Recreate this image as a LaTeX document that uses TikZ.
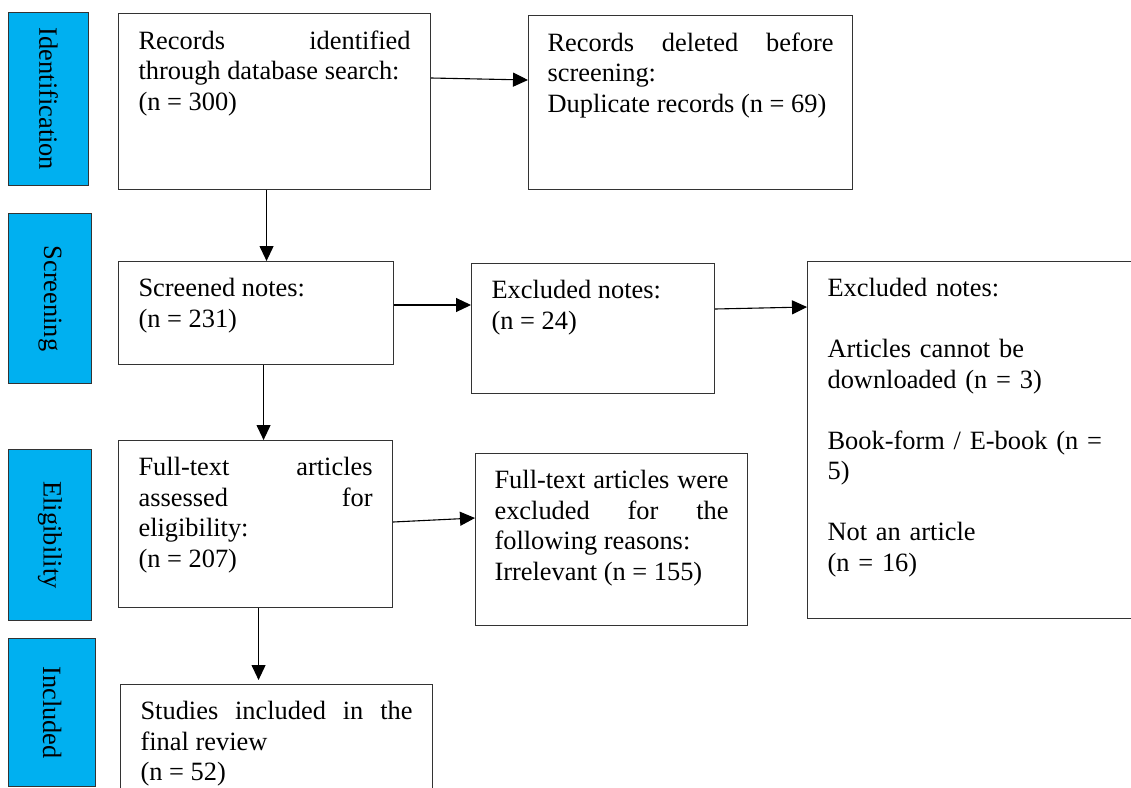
\documentclass[tikz,border=0pt]{standalone}
\usepackage{fontspec}
\setmainfont{Liberation Serif}
\usepackage{graphicx}
\usetikzlibrary{arrows.meta}

\definecolor{stageblue}{HTML}{00B0F0}
\newcommand{\flowfont}{\fontsize{26.4}{30.5}\selectfont}
\tolerance=10000
\hyphenpenalty=10000
\exhyphenpenalty=10000

\begin{document}
\begin{tikzpicture}[x=1pt, y=-1pt,
    box/.style={draw=black!80, line width=1.1pt, anchor=north west, align=justify,
      inner xsep=20pt, inner ysep=17pt, font=\flowfont},
    stage/.style={draw=black!80, fill=stageblue, line width=1.1pt,
      anchor=north west, inner sep=0pt, font=\flowfont},
    arr/.style={-{Triangle[length=15pt,width=14pt]}, line width=1.1pt}]
  \useasboundingbox (0,0) rectangle (1131,787);
  \clip (0,0) rectangle (1131,787);

  % stages on the left
  \node[stage, minimum width=80pt, minimum height=173pt] (sid) at (8,12) {\rotatebox{-90}{Identification}};
  \node[stage, minimum width=83pt, minimum height=170pt] (ssc) at (8,213) {\rotatebox{-90}{Screening}};
  \node[stage, minimum width=83pt, minimum height=171pt] (sel) at (8,449) {\rotatebox{-90}{Eligibility}};
  \node[stage, minimum width=87pt, minimum height=148pt] (sin) at (8,638) {\rotatebox{-90}{Included}};

  % main column
  \node[box, text width=272pt, text depth=123pt] (rec) at (118,13)
    {Records identified\linebreak through database search:\\ (n~=~300)};
  \node[box, text width=235pt, text depth=51pt] (scr) at (118,261)
    {Screened notes:\\ (n~=~231)};
  \node[box, text width=234pt, text depth=115pt] (ft) at (118,440)
    {Full-text articles\linebreak assessed for\linebreak eligibility:\\ (n~=~207)};
  \node[box, text width=272pt, text depth=88pt] (stu) at (120,684)
    {Studies included in the\linebreak final review\\ (n~=~52)};

  % removed records
  \node[box, text width=286pt, inner xsep=19pt, text depth=121pt] (del) at (528,15)
    {Records deleted before\linebreak screening:\\ Duplicate~records~(n~=~69)};
  \node[box, text width=203pt, text depth=78pt] (exa) at (471,263)
    {Excluded notes:\\ (n~=~24)};
  \node[box, text width=234pt, inner xsep=19pt, text depth=120pt] (ftx) at (475,453)
    {Full-text~articles~were\linebreak excluded for the\linebreak following reasons:\\ Irrelevant (n~=~155)};
  \node[box, text width=290pt, text depth=305pt, align=left] (exb) at (807,261)
    {Excluded notes:\\[30.5pt] Articles cannot be\\ downloaded (n = 3)\\[30.5pt]
     Book-form / E-book (n =\\ 5)\\[30.5pt] Not an article\\ (n = 16)};

  % arrows
  \draw[arr] ([yshift=-65pt]rec.north east) -- ([yshift=-65pt]del.north west);
  \draw[arr] ([xshift=-8pt]rec.south) -- ([xshift=10.5pt]scr.north);
  \draw[arr] ([yshift=-44pt]scr.north east) -- ([yshift=-42pt]exa.north west);
  \draw[arr] ([yshift=-46pt]exa.north east) -- ([yshift=-46pt]exb.north west);
  \draw[arr] ([xshift=7.5pt]scr.south) -- ([xshift=8pt]ft.north);
  \draw[arr] ([yshift=-82pt]ft.north east) -- ([yshift=-65pt]ftx.north west);
  \draw[arr, shorten >=4pt] ([xshift=3pt]ft.south) -- ([xshift=-18pt]stu.north);
\end{tikzpicture}
\end{document}
